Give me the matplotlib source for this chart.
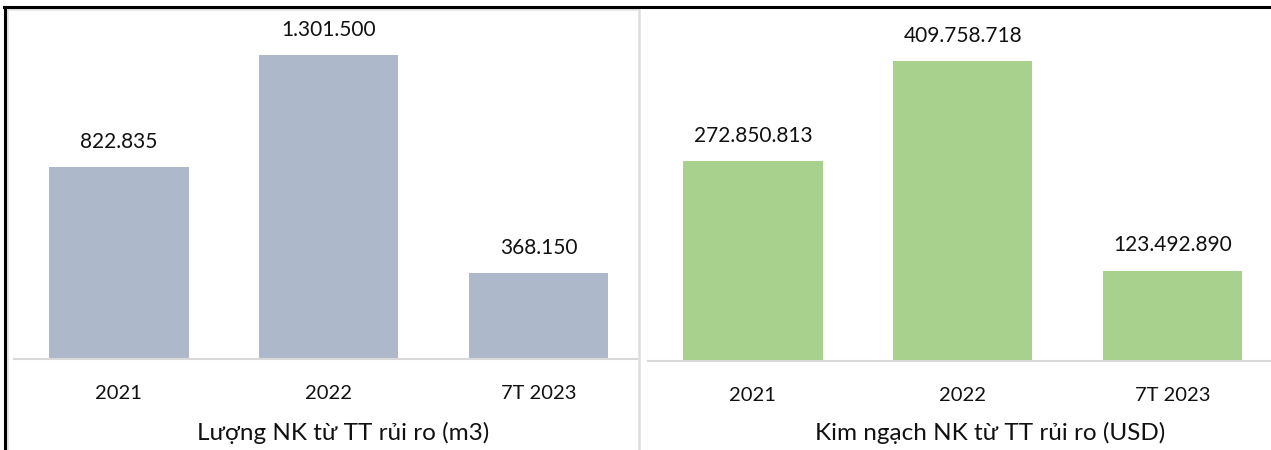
import matplotlib.pyplot as plt
from matplotlib.lines import Line2D

plt.rcParams['font.family'] = ['Lato', 'DejaVu Sans']

years = ['2021', '2022', '7T 2023']
volume_m3 = [822835, 1301500, 368150]
value_usd = [272850813, 409758718, 123492890]
volume_title = 'Lượng NK từ TT rủi ro (m3)'
value_title = 'Kim ngạch NK từ TT rủi ro (USD)'

W, H = 1271, 450
fig = plt.figure(figsize=(W / 100, H / 100), dpi=100)


def fmt(v):
    # Vietnamese thousands separator
    return f'{v:,}'.replace(',', '.')


def panel(left, right, base, top, values, colour, title, title_x, px_max, xmax):
    ax = fig.add_axes([left / W, 1 - base / H, (right - left) / W, (base - top) / H])
    x = range(len(values))
    vmax = max(values)
    ax.bar(x, values, width=0.665, color=colour, zorder=2)
    ax.set_ylim(0, vmax * (base - top) / px_max)
    ax.set_xlim(-0.5, xmax)
    for i, v in enumerate(values):
        ax.annotate(fmt(v), (i, v), xytext=(0, 11), textcoords='offset points',
                    ha='center', va='bottom', fontsize=15, color='#111111')
    ax.set_xticks(list(x))
    ax.set_xticklabels(years, fontsize=14.5, color='#111111')
    ax.tick_params(axis='x', length=0, pad=19)
    ax.set_yticks([])
    for s in ['top', 'left', 'right']:
        ax.spines[s].set_visible(False)
    ax.spines['bottom'].set_color('#D9D9D9')
    ax.spines['bottom'].set_linewidth(1.5)
    # axis title below the category labels
    fig.text(title_x / W, 1 - 433 / H, title, ha='center', va='center',
             fontsize=17.5, color='#111111')
    return ax


panel(14, 637, 359, 20, volume_m3, '#ADB9CA', volume_title, 343, 304, 2.47)
panel(648, 1271, 361, 20, value_usd, '#A9D18E', value_title, 990, 300, 2.47)


def line(x0, y0, x1, y1, colour, lw):
    fig.add_artist(Line2D([x0 / W, x1 / W], [1 - y0 / H, 1 - y1 / H],
                          color=colour, linewidth=lw, transform=fig.transFigure))


# panel frames
line(8, 10, 639, 10, '#E3E3E3', 1.2)
line(8, 10, 8, 450, '#E3E3E3', 1.2)
line(639, 10, 639, 450, '#DDDDDD', 1.8)
# outer black border
line(4, 7, 1271, 7, 'black', 2.2)
line(4.5, 7, 4.5, 450, 'black', 2.2)

fig.savefig('out.png', dpi=100)
